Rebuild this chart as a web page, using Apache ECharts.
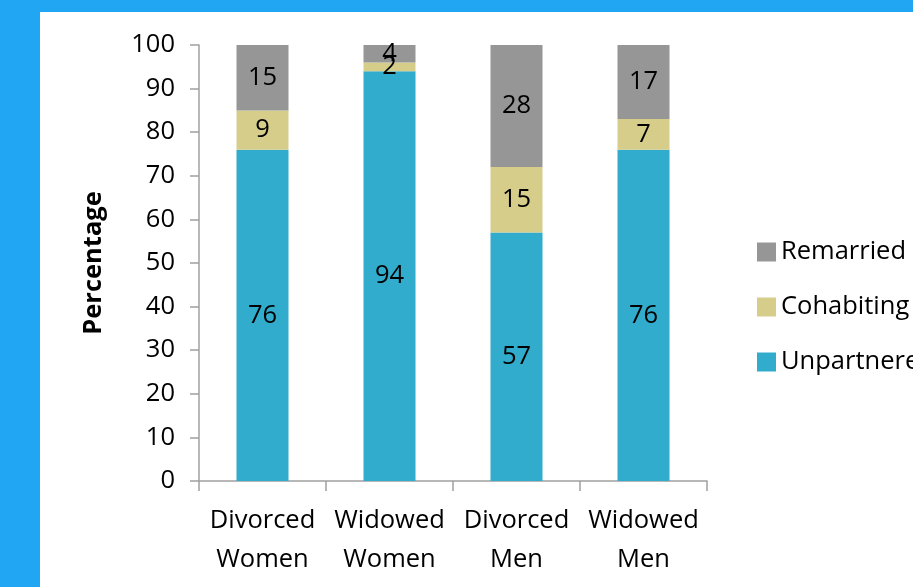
<!DOCTYPE html>
<html><head><meta charset="utf-8">
<script src="https://cdn.jsdelivr.net/npm/echarts@6/dist/echarts.min.js"></script>
<style>html,body{margin:0;padding:0;background:#21A6F4;}#c{width:913px;height:587px;}</style>
</head><body><div id="c"></div>
<script>
var categories = ["Divorced\nWomen", "Widowed\nWomen", "Divorced\nMen", "Widowed\nMen"];
var unpartnered = [76, 94, 57, 76];
var cohabiting = [9, 2, 15, 7];
var remarried = [15, 4, 28, 17];
var yTicks = {min: 0, max: 100, interval: 10};

var font = "'Open Sans', 'Noto Sans', sans-serif";
var fs = 25.5;
var lbl = {show: true, position: 'inside', color: '#000', fontSize: fs, fontFamily: font};
var chart = echarts.init(document.getElementById('c'));
chart.setOption({
  backgroundColor: '#21A6F4',
  animation: false,
  graphic: [{type: 'rect', left: 40, top: 12, shape: {width: 873, height: 575}, style: {fill: '#fff'}, z: -10}],
  grid: {left: 199, right: 206, top: 45, bottom: 106},
  legend: {
    orient: 'vertical', left: 752, top: 234, itemGap: 29, itemWidth: 19, itemHeight: 19,
    icon: 'rect', data: ['Remarried', 'Cohabiting', 'Unpartnered'],
    textStyle: {fontSize: fs, fontFamily: font, color: '#000', padding: [0, 0, 0, 0]}
  },
  xAxis: {
    type: 'category', data: categories,
    axisLine: {lineStyle: {color: '#A0A0A0', width: 1.5}},
    axisTick: {show: true, length: 10, lineStyle: {color: '#A0A0A0', width: 1.5}},
    axisLabel: {color: '#000', fontSize: fs, fontFamily: font, lineHeight: 39, margin: 20, interval: 0}
  },
  yAxis: {
    type: 'value', min: yTicks.min, max: yTicks.max, interval: yTicks.interval,
    name: 'Percentage', nameLocation: 'middle', nameGap: 92,
    nameTextStyle: {fontSize: fs, fontWeight: 'bold', fontFamily: font, color: '#000'},
    splitLine: {show: false},
    axisLine: {show: true, lineStyle: {color: '#A0A0A0', width: 1.5}},
    axisTick: {show: true, length: 9, lineStyle: {color: '#A0A0A0', width: 1.5}},
    axisLabel: {color: '#000', fontSize: fs, fontFamily: font, margin: 24}
  },
  series: [
    {name: 'Unpartnered', type: 'bar', stack: 's', data: unpartnered, barWidth: 52, itemStyle: {color: '#31ACCC'}, label: lbl},
    {name: 'Cohabiting', type: 'bar', stack: 's', data: cohabiting, itemStyle: {color: '#D7CD8B'}, label: lbl},
    {name: 'Remarried', type: 'bar', stack: 's', data: remarried, itemStyle: {color: '#969696'}, label: lbl}
  ]
});
</script></body></html>
